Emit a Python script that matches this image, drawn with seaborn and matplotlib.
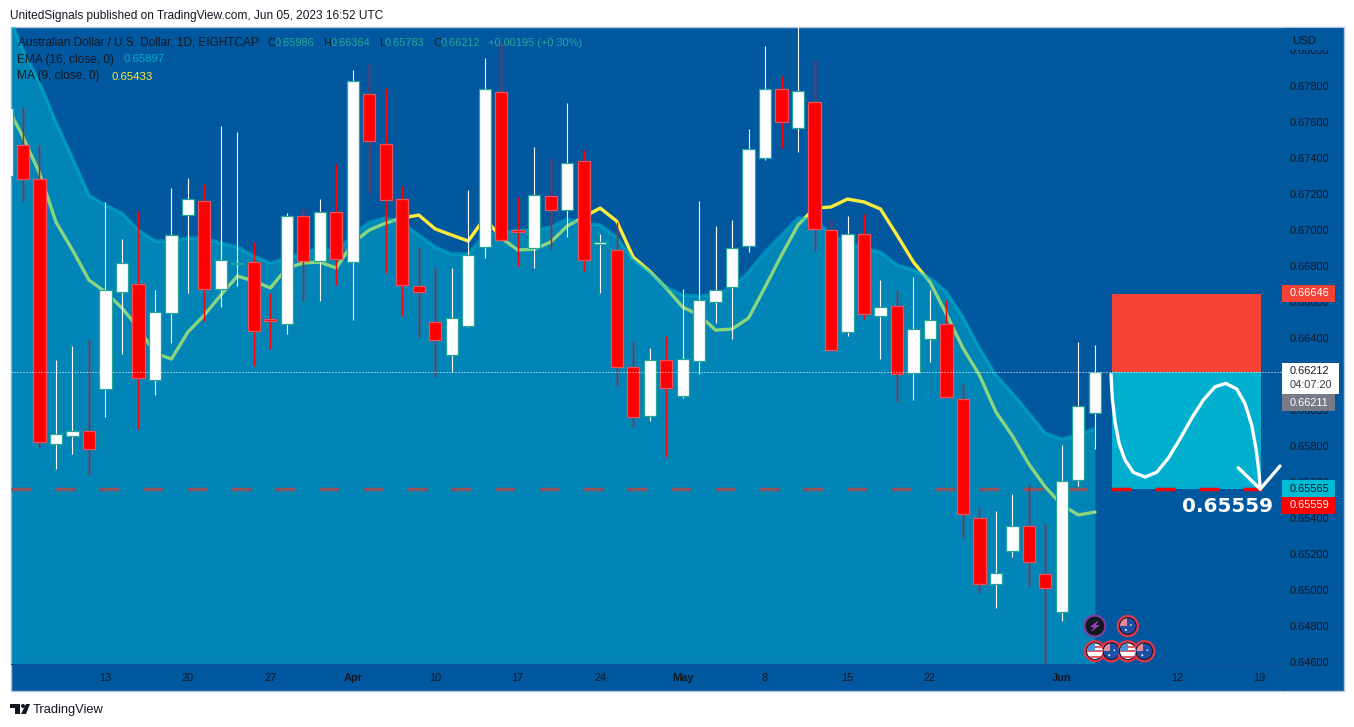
import numpy as np
import pandas as pd
import seaborn as sns
import matplotlib as mpl
import matplotlib.pyplot as plt
from matplotlib.patches import Rectangle, Circle, Polygon
from matplotlib.transforms import IdentityTransform

# AUDUSD daily candles, first one is cut by the left edge
bar_idx = list(range(-1, 66))
opens = [.67300,.67472,.67283,.65811,.65856,.65883,.66117,.66656,.66700,.66167,.66539,.67083,.67161,.66672,.66811,
         .66822,.66506,.66478,.67078,.66828,.67100,.66822,.67756,.67478,.67172,.66689,.66489,.66306,.66467,.66906,
         .67767,.67000,.66900,.67189,.67111,.67383,.66922,.66889,.66239,.65967,.66278,.66078,.66272,.66600,.66683,
         .66911,.67400,.67783,.67567,.67711,.67000,.66433,.66978,.66522,.66578,.66206,.66394,.66478,.66061,.65400,
         .65033,.65217,.65356,.65089,.64878,.65611,.65986]
highs = [.67678,.67683,.67472,.66278,.66356,.66394,.67156,.66950,.67106,.66667,.67233,.67289,.67256,.67578,.67544,
         .66933,.66650,.67094,.67122,.67172,.67367,.67889,.67922,.67789,.67244,.66906,.66794,.66789,.67222,.67956,
         .68039,.67183,.67461,.67400,.67706,.67444,.66978,.67044,.66383,.66344,.66411,.66672,.67161,.67022,.67056,
         .67561,.68022,.67856,.68167,.67950,.67056,.67078,.67089,.66722,.66667,.66739,.66667,.66611,.66144,.65461,
         .65439,.65533,.65583,.65372,.65806,.66378,.66364]
lows = [.67300,.67161,.65794,.65672,.65756,.65639,.65961,.66311,.65894,.66083,.66372,.66650,.66494,.66572,.66689,
        .66244,.66339,.66422,.66606,.66606,.66694,.66500,.67206,.66761,.66522,.66406,.66183,.66211,.66460,.66844,
        .66944,.66800,.66789,.66894,.66961,.66772,.66650,.66133,.65906,.65939,.65739,.66067,.66200,.66483,.66394,
        .66878,.67389,.67456,.67433,.66883,.66322,.66411,.66506,.66283,.66044,.66056,.66267,.66067,.65289,.64983,
        .64900,.65183,.65022,.64580,.64828,.65578,.65783]
closes = [.67678,.67283,.65822,.65867,.65883,.65783,.66667,.66817,.66178,.66544,.66972,.67172,.66672,.66833,.66817,
          .66439,.66494,.67078,.66828,.67100,.66839,.67828,.67494,.67167,.66694,.66656,.66389,.66511,.66861,.67783,
          .66944,.66989,.67194,.67111,.67372,.66833,.66933,.66239,.65961,.66278,.66122,.66283,.66611,.66667,.66900,
          .67450,.67783,.67600,.67772,.67006,.66333,.66978,.66533,.66572,.66200,.66450,.66500,.66072,.65422,.65033,
          .65094,.65356,.65156,.65011,.65606,.66022,.66212]

ma9 = [.67694,.67517,.67317,.67044,.66889,.66722,.66656,.66567,.66456,.66317,.66283,.66433,.66528,.66639,.66744,
       .66717,.66678,.66789,.66817,.66822,.66789,.66928,.67000,.67039,.67067,.67083,.67006,.66972,.66939,.67067,
       .66956,.66889,.66894,.66933,.67022,.67072,.67122,.67050,.66850,.66772,.66678,.66572,.66528,.66444,.66450,
       .66511,.66683,.66861,.67028,.67122,.67128,.67172,.67156,.67117,.66972,.66822,.66711,.66533,.66344,.66194,
       .65989,.65856,.65700,.65572,.65472,.65417,.65433]
ema16 = [.68222,.68000,.67822,.67600,.67400,.67194,.67139,.67094,.67000,.66939,.66939,.66956,.66956,.66928,.66906,
         .66856,.66817,.66844,.66872,.66900,.66878,.66972,.67044,.67067,.67039,.66972,.66906,.66867,.66867,.66972,
         .66983,.67000,.67000,.67017,.67061,.67039,.67028,.66961,.66833,.66767,.66683,.66639,.66633,.66644,.66678,
         .66767,.66878,.66972,.67067,.67061,.66972,.66928,.66900,.66878,.66806,.66778,.66733,.66656,.66517,.66344,
         .66194,.66094,.65983,.65872,.65839,.65861,.65897]

last_close = .66212
stop_price = .66646
target_price = .65559
box_start, box_end = 66.04, 75.08

# hand drawn path on the position box
curve_idx = [65.98,66.06,66.22,66.47,66.83,67.33,68.04,68.75,69.45,70.16,70.87,71.58,72.29,72.94,73.60,74.10,74.51,74.77,74.95,75.03]
curve_price = [.66198,.66065,.65935,.65815,.65722,.65654,.65628,.65654,.65732,.65839,.65954,.66056,.66129,.66148,.66117,.66037,.65917,.65787,.65657,.65561]
arrow_idx = [73.70,75.03,76.23]
arrow_price = [.65679,.65561,.65689]

price_ticks = [.680,.678,.676,.674,.672,.670,.668,.666,.664,.662,.660,.658,.656,.654,.652,.650,.648,.646]
date_ticks = [5,10,15,20,25,30,35,40,45,50,55,63,70,75]
date_labels = ["13","20","27","Apr","10","17","24","May","8","15","22","Jun","12","19"]
bold_labels = ["Apr","May","Jun"]

event_idx = [65,67,65,66,67,68]
event_price = [.6480,.6480,.6466,.6466,.6466,.6466]
event_kind = ["bolt","aus","us","aus","us","aus"]

BG = "#02589E"
DARK = "#131722"
W, H = 1354, 727

sns.set_theme(style="white")
plt.rcParams["font.family"] = ["Liberation Sans", "DejaVu Sans"]

df = pd.DataFrame({"idx": bar_idx, "open": opens, "high": highs, "low": lows, "close": closes, "ma": ma9, "ema": ema16})
up = df[df["close"] >= df["open"]]
down = df[df["close"] < df["open"]]

fig = plt.figure(figsize=(13.54, 7.27), dpi=100, facecolor="white")
T = IdentityTransform()


def box(x0, y0, x1, y1, **kw):
    r = Rectangle((x0, H - y1), x1 - x0, y1 - y0, transform=T, **kw)
    fig.add_artist(r)
    return r


def label(x, y, s, **kw):
    kw.setdefault("color", DARK)
    kw.setdefault("fontsize", 7.9)
    kw.setdefault("ha", "left")
    kw.setdefault("va", "center")
    return fig.text(x / W, 1 - y / H, s, **kw)


# chart panel behind the axes
box(10.5, 27, 1343.5, 691, facecolor=BG, edgecolor="#AFC6DF", linewidth=1, zorder=-5)

ax = fig.add_axes([11 / W, 1 - 664 / H, 1272 / W, 637 / H])
ax.set_facecolor("none")
ax.set_xlim(-0.728, 76.41)
ax.set_ylim(.64589, .68128)

# position box sits under everything
ax.add_patch(Rectangle((box_start, last_close), box_end - box_start, stop_price - last_close,
                       facecolor="#F44336", edgecolor="none", zorder=0.5))
ax.add_patch(Rectangle((box_start, target_price), box_end - box_start, last_close - target_price,
                       facecolor="#00AFCD", edgecolor="none", zorder=0.5))

ax.plot([-0.728, 75.12], [target_price, target_price], color="#FF0000", lw=2.5,
        linestyle=(0, (5.76, 6.91)), dash_capstyle="butt", zorder=1)

sns.lineplot(data=df, x="idx", y="ma", color="#FFEB3B", linewidth=2.4, estimator=None, sort=False, ax=ax, zorder=1)
ax.fill_between(df["idx"], df["ema"], .64589, color="#00BCD4", alpha=.45, linewidth=0, zorder=2)
sns.lineplot(data=df, x="idx", y="ema", color="#00BCD4", alpha=.5, linewidth=2.4, estimator=None, sort=False, ax=ax, zorder=2.5)

# candles
ax.vlines(up["idx"], up["low"], up["high"], color="white", lw=.8, snap=True, zorder=3)
ax.vlines(down["idx"], down["low"], down["high"], color="#FF0000", lw=1.0, snap=True, zorder=3)
ax.bar(up["idx"], up["close"] - up["open"], bottom=up["open"], width=.74, color="white",
       edgecolor="#26A69A", linewidth=.9, zorder=4)
ax.bar(down["idx"], down["open"] - down["close"], bottom=down["close"], width=.74, color="#FF0000",
       edgecolor="#F0505A", linewidth=.9, zorder=4)

ax.plot([-0.728, 76.41], [last_close, last_close], color="white", lw=.72,
        linestyle=(0, (1, 2)), zorder=5)

sns.lineplot(x=curve_idx, y=curve_price, color="white", linewidth=2.4, estimator=None, sort=False,
             solid_capstyle="round", ax=ax, zorder=6)
sns.lineplot(x=arrow_idx, y=arrow_price, color="white", linewidth=2.4, estimator=None, sort=False,
             solid_capstyle="round", ax=ax, zorder=6)

ax.set_xlabel("")
ax.set_ylabel("")
ax.yaxis.tick_right()
ax.set_yticks(price_ticks)
# 0.662 sits fully behind the last price tag
ax.set_yticklabels(["" if p == .662 else "%.5f" % p for p in price_ticks], fontsize=7.9, color=DARK)
ax.set_xticks(date_ticks)
ax.set_xticklabels(date_labels, fontsize=7.9, color=DARK)
for t in ax.get_xticklabels():
    if t.get_text() in bold_labels:
        t.set_fontweight("bold")
ax.tick_params(axis="both", length=0)
ax.tick_params(axis="y", pad=5)
ax.tick_params(axis="x", pad=6.5)
sns.despine(ax=ax, left=True, top=True)
ax.spines["right"].set_color("#0A4F91")
ax.spines["bottom"].set_color("#0A4F91")
ax.spines["right"].set_linewidth(.8)
ax.spines["bottom"].set_linewidth(.8)

# price scale cut by the currency header
box(1284, 28, 1343, 50, facecolor=BG, edgecolor="none", zorder=2)
label(1292, 41, "USD", zorder=3, fontsize=8.2)
box(1283, 664.5, 1284, 690.5, facecolor="#0A4F91", edgecolor="none", zorder=2)

# header, watermark
label(10, 15.5, "UnitedSignals published on TradingView.com, Jun 05, 2023 16:52 UTC", fontsize=8.6)
label(33, 710, "TradingView", fontsize=9.3)
fig.add_artist(Polygon([(10, H-704), (20, H-704), (20, H-714), (15, H-714), (15, H-708), (10, H-708)],
                       transform=T, facecolor=DARK, edgecolor="none"))
fig.add_artist(Polygon([(26, H-704), (30, H-704), (26, H-714), (21, H-714)], transform=T, facecolor=DARK, edgecolor="none"))
fig.add_artist(Circle((23, H-706), 2, transform=T, facecolor=DARK, edgecolor="none"))

# status lines
TEAL = "#26A69A"
label(18, 42.5, "Australian Dollar / U.S. Dollar, 1D, EIGHTCAP", zorder=7, fontsize=8.5)
for x0, x1, v in [(267, 275, "0.65986"), (323, 331, "0.66364"), (379, 385, "0.65783"), (433, 441, "0.66212")]:
    label(x0, 42.5, {275: "O", 331: "H", 385: "L", 441: "C"}[x1], zorder=7, fontsize=8.2)
    label(x1, 42.5, v, color=TEAL, zorder=7, fontsize=7.9)
label(488, 42.5, "+0.00195 (+0.30%)", color=TEAL, zorder=7, fontsize=7.9)
label(17, 59.5, "EMA (16, close, 0)", zorder=7, fontsize=8.6)
label(123, 59.5, "0.65897", color="#00ACC9", zorder=7, fontsize=8.2)
label(17, 76.5, "MA (9, close, 0)", zorder=7, fontsize=8.6)
label(111, 76.5, "0.65433", color="#FFEB3B", zorder=7, fontsize=8.2)

label(1182, 506, "0.65559", color="white", fontsize=14.4, fontweight="bold", family="DejaVu Sans", zorder=7)

# price tags on the scale
tags = [(285, 302, 1335, "#F44336", "white", "0.66646"),
        (394, 411, 1335, "#787B86", "white", "0.66211"),
        (480, 497, 1335, "#00BCD4", DARK, "0.65565"),
        (497, 514, 1335, "#FF0000", "white", "0.65559")]
for y0, y1, x1, c, tc, s in tags:
    box(1282, y0, x1, y1, facecolor=c, edgecolor="none", zorder=3)
    label(1290, (y0 + y1) / 2, s, color=tc, zorder=4)
box(1282, 363, 1339, 394, facecolor="white", edgecolor="none", zorder=3)
label(1290, 371, "0.66212", zorder=4)
label(1290, 385, "04:07:20", color="#363A45", zorder=4)

# event markers
for i, p, kind in zip(event_idx, event_price, event_kind):
    cx, cy = ax.transData.transform((i, p))
    if kind == "bolt":
        fig.add_artist(Circle((cx, cy), 10.5, transform=T, facecolor="#131722", edgecolor="#7B3FA0", linewidth=1.6, zorder=8))
        fig.add_artist(Polygon([(cx+4, cy+6), (cx-5, cy-1), (cx-1, cy-1), (cx-4, cy-6), (cx+5, cy+1), (cx+1, cy+1)],
                               transform=T, facecolor="#9C3FC0", edgecolor="none", zorder=9))
        continue
    fig.add_artist(Circle((cx, cy), 10, transform=T, facecolor="#131722", edgecolor="#E5364B", linewidth=1.6, zorder=8))
    inner = Circle((cx, cy), 7.8, transform=T, facecolor="#1C4FA8" if kind == "aus" else "white", edgecolor="none", zorder=9)
    fig.add_artist(inner)
    if kind == "us":
        for dy, c in [(4, "#E5596B"), (0, "#E5596B"), (-6, "#E5596B")]:
            s = Rectangle((cx-9, cy+dy-1), 18, 2.2, transform=T, facecolor=c, edgecolor="none", zorder=10)
            fig.add_artist(s)
            s.set_clip_path(inner)
        s = Rectangle((cx-9, cy), 9, 9, transform=T, facecolor="#4A90D9", edgecolor="none", zorder=11)
        fig.add_artist(s)
        s.set_clip_path(inner)
    else:
        s = Rectangle((cx-9, cy), 8, 9, transform=T, facecolor="#E58A96", edgecolor="none", zorder=10)
        fig.add_artist(s)
        s.set_clip_path(inner)
        fig.add_artist(Circle((cx-2, cy-4), 1, transform=T, facecolor="white", edgecolor="none", zorder=11))
        fig.add_artist(Circle((cx+3, cy+1), .8, transform=T, facecolor="white", edgecolor="none", zorder=11))

fig.savefig("out.png", dpi=100)
